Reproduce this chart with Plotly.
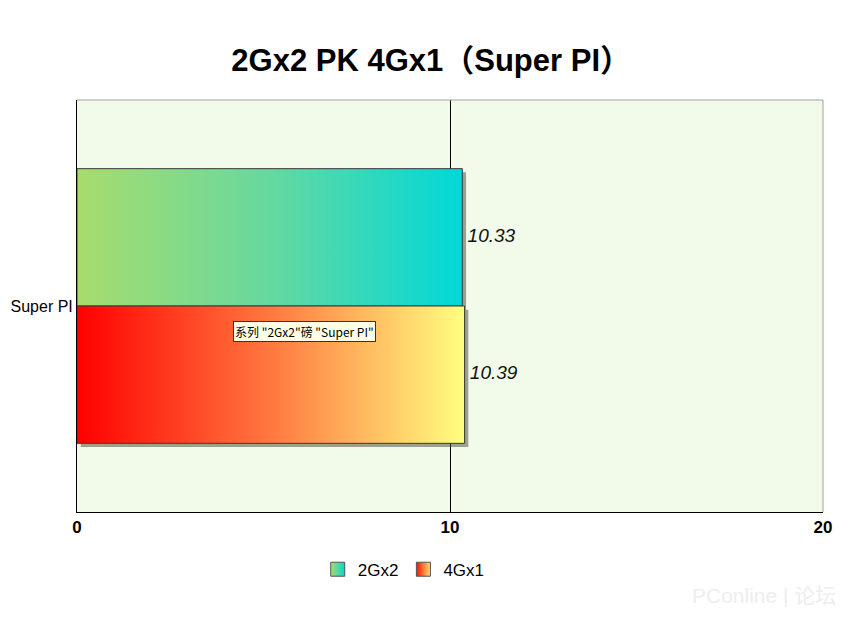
import plotly.graph_objects as go

categories = ["Super PI"]
series_names = ["2Gx2", "4Gx1"]
series_values = [10.33, 10.39]
x_ticks = [0, 10, 20]

colorscales = [
    [[0, "#a8dc6c"], [0.5, "#66d8a0"], [1, "#00d8d8"]],
    [[0, "#ff0000"], [0.5, "#ff7840"], [1, "#ffff80"]],
]
legend_grad = [("#a8dc6c", "#00d8d8"), ("#ff1000", "#ffe070")]

bar_w = 1 / 3
fig = go.Figure()

# shadows
for i, (name, v) in enumerate(zip(series_names, series_values)):
    y_top = bar_w * (1 - i)
    y_bot = y_top - bar_w
    dx, dy = 0.1, -0.009
    fig.add_trace(go.Scatter(
        x=[0 + dx, v + dx, v + dx, 0 + dx, 0 + dx],
        y=[y_bot + dy, y_bot + dy, y_top + dy, y_top + dy, y_bot + dy],
        fill="toself", fillcolor="rgba(70,70,50,0.5)", mode="none",
        showlegend=False, hoverinfo="skip"))

for i, (name, v) in enumerate(zip(series_names, series_values)):
    y_top = bar_w * (1 - i)
    y_bot = y_top - bar_w
    fig.add_trace(go.Scatter(
        x=[0, v, v, 0, 0], y=[y_bot, y_bot, y_top, y_top, y_bot],
        fill="toself", mode="lines", name=name, legendgroup=name,
        line=dict(color="#3a3a3a", width=1), showlegend=False,
        fillgradient=dict(type="horizontal", colorscale=colorscales[i], start=0, stop=v),
        hovertemplate=f"{name}: {v}<extra></extra>"))
    fig.add_trace(go.Scatter(
        x=[v], y=[(y_top + y_bot) / 2], mode="text", text=[f" {v:.2f}"],
        textposition="middle right",
        textfont=dict(family="Liberation Sans, Arial", size=19, color="#111", style="italic"),
        showlegend=False, hoverinfo="skip", cliponaxis=False))

# legend entries
for i, name in enumerate(series_names):
    fig.add_trace(go.Scatter(
        x=[None], y=[None], mode="markers", name=name, legendgroup=name,
        marker=dict(symbol="square", size=14, color=legend_grad[i][0],
                    gradient=dict(type="horizontal", color=legend_grad[i][1]),
                    line=dict(color="#555", width=1))))

fig.add_annotation(
    x=6.1, y=-0.062, xref="x", yref="y", showarrow=False,
    text='系列 "2Gx2"磅 "Super PI"',
    font=dict(family="Noto Sans CJK SC, Liberation Sans", size=12, color="#000"),
    bgcolor="#ffffe8", bordercolor="#333", borderwidth=1, borderpad=1)

fig.add_annotation(
    x=1.02, y=-0.17, xref="paper", yref="paper", xanchor="right", yanchor="top",
    showarrow=False, text="PConline | 论坛",
    font=dict(family="Liberation Sans, Noto Sans CJK SC", size=21, color="#eeeeee"))

fig.update_layout(
    width=833, height=614,
    margin=dict(l=69, r=18, t=92, b=110, autoexpand=False),
    paper_bgcolor="white", plot_bgcolor="#f2fbea",
    title=dict(text="2Gx2 PK 4Gx1（Super PI）", x=0.508, xanchor="center", yref="container",
               y=0.915, yanchor="middle",
               font=dict(family="Liberation Sans, Arial, Noto Sans CJK SC", size=31, color="#000", weight="bold")),
    xaxis=dict(range=[0, 20], tickvals=x_ticks, ticktext=[str(t) for t in x_ticks],
               showgrid=True, gridcolor="#000", gridwidth=1, zeroline=False, automargin=False,
               showline=True, linecolor="#000", linewidth=1, mirror=False, ticks="",
               tickfont=dict(family="Liberation Sans, Arial", size=17, color="#000", weight="bold")),
    yaxis=dict(range=[-0.5, 0.5], tickvals=[0], ticktext=categories, showgrid=False, zeroline=False,
               showline=True, linecolor="#000", linewidth=1, ticks="", automargin=False,
               tickfont=dict(family="Liberation Sans, Arial", size=16, color="#000")),
    legend=dict(orientation="h", x=0.438, xanchor="center", y=-0.14, yanchor="middle",
                font=dict(family="Liberation Sans, Arial", size=17, color="#000"),
                traceorder="normal", itemwidth=30),
    showlegend=True,
)

# top and right gray border
fig.add_shape(type="line", xref="paper", yref="paper", x0=0, x1=1, y0=1, y1=1,
              line=dict(color="#a0a0a0", width=1))
fig.add_shape(type="line", xref="paper", yref="paper", x0=1, x1=1, y0=0, y1=1,
              line=dict(color="#a0a0a0", width=1))

fig.write_html("out.html")
